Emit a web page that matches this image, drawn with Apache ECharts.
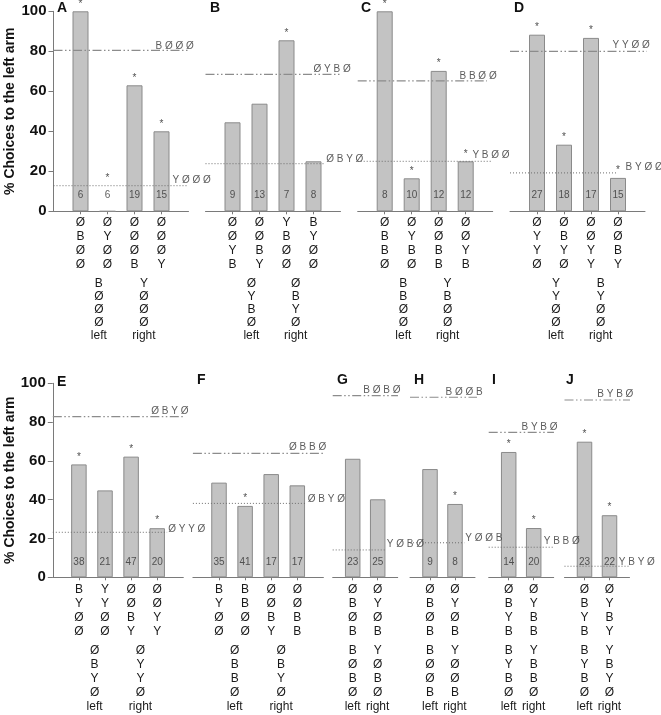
<!DOCTYPE html>
<html><head><meta charset="utf-8">
<script src="https://cdn.jsdelivr.net/npm/echarts@6/dist/echarts.min.js"></script>
<style>html,body{margin:0;padding:0;background:#fff}#c{width:661px;height:715px}</style>
</head><body><div id="c"></div>
<script>
// ---------------- DATA ----------------
const panels = ['A','B','C','D','E','F','G','H','I','J'];
const barValues = [
  [100, 0, 63, 40],
  [44.5, 53.8, 85.5, 25],
  [100, 16.5, 70.2, 25],
  [88.3, 33.3, 86.7, 16.7],
  [58.2, 44.8, 62.2, 25.3],
  [48.8, 36.8, 53.2, 47.4],
  [61.1, 40.2],
  [55.8, 37.8],
  [64.6, 25.4],
  [69.9, 32]
];
const sampleSizes = [
  [6,6,19,15],[9,13,7,8],[8,10,12,12],[27,18,17,15],
  [38,21,47,20],[35,41,17,17],[23,25],[9,8],[14,20],[23,22]
];
const significant = [
  [1,1,1,1],[0,0,1,0],[1,1,1,1],[1,1,1,1],
  [1,0,1,1],[0,1,0,0],[0,0],[0,1],[1,1],[1,1]
];
// reference lines: dash-dot = left training pattern, dotted = right training pattern
const dashDotRef = [80.5, 68.5, 65.2, 80, 82.8, 63.9, 93.6, 92.8, 74.7, 91.4];
const dottedRef  = [12.8, 23.8, 25, 19.2, 23.2, 38.1, 14.1, 17.8, 15.5, 5.7];
const armLabels = [
  ['ØBØØ','ØYØØ','ØØØB','ØØØY'],
  ['ØØYB','ØØBY','YBØØ','BYØØ'],
  ['ØBBØ','ØYBØ','ØØBB','ØØYB'],
  ['ØYYØ','ØBYØ','ØØYY','ØØBY'],
  ['BYØØ','YYØØ','ØØBY','ØØYY'],
  ['BYØØ','BBØØ','ØØBY','ØØBB'],
  ['ØBØB','ØYØB'],
  ['ØBØB','ØYØB'],
  ['ØBYB','ØYBB'],
  ['ØBYB','ØYBY']
];
const trainingLabels = [
  ['BØØØ','YØØØ'],
  ['ØYBØ','ØBYØ'],
  ['BBØØ','YBØØ'],
  ['YYØØ','BYØØ'],
  ['ØBYØ','ØYYØ'],
  ['ØBBØ','ØBYØ'],
  ['BØBØ','YØBØ'],
  ['BØØB','YØØB'],
  ['BYBØ','YBBØ'],
  ['BYBØ','YBYØ']
];
const sideLabels = ['left','right'];
const yTickStep = 20;
const yAxisTitle = '% Choices to the left arm';
const nLabelLevel = 8;   // height at which n is written
const starGap = 0;

// ---------------- LAYOUT ----------------
const topRow = {top:11.3, h:200, lab1:{lh:14, m:4}, lab2:{lh:13, m:66.2}, bw:16};
const botRow = {top:383.3, h:194, lab1:{lh:13.7, m:6}, lab2:{lh:13.8, m:66.8}, bw:15.5};
const layout = [
  {row:topRow, left:53.5, unit:27, min:0, max:5, pos:[1,2,3,4], pairPos:[1.68,3.35], lx:57, ly:1, yaxis:true},
  {row:topRow, left:205.5, unit:27, min:0, max:5, pos:[1,2,3,4], pairPos:[1.70,3.34], lx:210, ly:1},
  {row:topRow, left:357.7, unit:27, min:0, max:5, pos:[1,2,3,4], pairPos:[1.69,3.33], lx:361, ly:1},
  {row:topRow, left:510, unit:27, min:0, max:5, pos:[1,2,3,4], pairPos:[1.70,3.36], lx:514, ly:1},
  {row:botRow, left:52.8, unit:26.1, min:0, max:5, pos:[1,2,3,4], pairPos:[1.6,3.36], lx:57, ly:375, yaxis:true},
  {row:botRow, left:192.9, unit:26.1, min:0, max:5, pos:[1,2,3,4], pairPos:[1.6,3.38], lx:197, ly:373},
  {row:botRow, left:332.7, unit:25, min:0.2, max:2.8, pos:[1,2], pairPos:[1,2], lx:337, ly:373},
  {row:botRow, left:410, unit:25, min:0.2, max:2.8, pos:[1,2], pairPos:[1,2], lx:414, ly:373},
  {row:botRow, left:488.7, unit:25, min:0.2, max:2.8, pos:[1,2], pairPos:[1,2], lx:492, ly:373},
  {row:botRow, left:564.5, unit:25, min:0.2, max:2.8, pos:[1,2], pairPos:[1,2], lx:566, ly:373}
];
// [line end x, label x, label dy(px)] for dash-dot and dotted lines
const refLayout = [
  {dd:[5.1, 3.76, -4],  dt:[4.94, 4.39, -5.7]},
  {dd:[5.09, 3.98, -5], dt:[4.43, 4.45, -4]},
  {dd:[4.79, 3.75, -4.7], dt:[4.97, 4.23, -6.5]},
  {dd:[5.07, 3.78, -6], dt:[3.96, 4.26, -5.7]},
  {dd:[5.14, 3.75, -5], dt:[4.38, 4.4, -3.5]},
  {dd:[5.06, 3.66, -6], dt:[4.36, 4.38, -4.3]},
  {dd:[2.81, 1.4, -5],  dt:[2.32, 2.34, -6]},
  {dd:[2.96, 1.6, -5],  dt:[2.37, 2.39, -4.5]},
  {dd:[2.81, 1.49, -5], dt:[2.81, 2.38, -5.6]},
  {dd:[2.82, 1.49, -6], dt:[2.82, 2.35, -4]}
];

const FONT = 'Liberation Sans, Arial, Helvetica, sans-serif';
const AXIS_COLOR = '#7a7a7a';
const TEXT_COLOR = '#1a1a1a';

const grids = [], xAxes = [], yAxes = [], series = [], titles = [];
const vert = s => s.split('').join('\n');
const spaced = s => s.split('').join(' ');

panels.forEach((p, i) => {
  const L = layout[i], R = L.row;
  grids.push({left:L.left, top:R.top, width:(L.max-L.min)*L.unit, height:R.h,
    containLabel:false, outerBoundsMode:'none'});
  const findIdx = (arr, v) => arr.findIndex(q => Math.abs(q - v) < 1e-6);
  // main x axis (arm contents)
  xAxes.push({
    type:'value', gridIndex:i, min:L.min, max:L.max,
    splitLine:{show:false},
    axisLine:{show:true, onZero:false, lineStyle:{color:AXIS_COLOR, width:1}},
    axisTick:{show:true, customValues:L.pos, length:3, lineStyle:{color:AXIS_COLOR}},
    axisLabel:{show:true, customValues:L.pos, margin:R.lab1.m, fontSize:12, lineHeight:R.lab1.lh,
      color:TEXT_COLOR, fontFamily:FONT,
      formatter:(v) => { const k = findIdx(L.pos, v); return k < 0 ? '' : vert(armLabels[i][k]); }}
  });
  // secondary x axis (training patterns, left/right)
  xAxes.push({
    type:'value', gridIndex:i, min:L.min, max:L.max, position:'bottom',
    splitLine:{show:false}, axisLine:{show:false}, axisTick:{show:false},
    axisLabel:{show:true, customValues:L.pairPos, margin:R.lab2.m, fontSize:12, lineHeight:R.lab2.lh,
      color:TEXT_COLOR, fontFamily:FONT,
      formatter:(v) => { const k = findIdx(L.pairPos, v); return k < 0 ? '' : vert(trainingLabels[i][k]) + '\n' + sideLabels[k]; }}
  });
  yAxes.push({
    type:'value', gridIndex:i, min:0, max:100, interval:yTickStep, show:!!L.yaxis,
    splitLine:{show:false},
    axisLine:{show:true, lineStyle:{color:AXIS_COLOR, width:1}},
    axisTick:{show:true, inside:false, length:5, lineStyle:{color:AXIS_COLOR}},
    axisLabel:{fontSize:15, fontWeight:'bold', color:'#111', margin:7, fontFamily:FONT},
    name: L.yaxis ? yAxisTitle : '', nameLocation:'middle', nameGap:32,
    nameTextStyle:{fontSize:14, fontWeight:'bold', color:'#111', fontFamily:FONT}
  });
  titles.push({text:p, left:L.lx, top:L.ly, padding:0,
    textStyle:{fontSize:14, fontWeight:'bold', color:'#111', fontFamily:FONT}});

  const xi = 2*i, yi = i;
  // bars
  series.push({
    type:'bar', xAxisIndex:xi, yAxisIndex:yi, barWidth:R.bw,
    data: barValues[i].map((v,k) => [L.pos[k], v]),
    itemStyle:{color:'#c3c3c3', borderColor:'#8a8a8a', borderWidth:1},
    silent:true
  });
  // reference lines
  const rl = refLayout[i];
  series.push({
    type:'line', xAxisIndex:xi, yAxisIndex:yi, symbol:'none', clip:false, silent:true,
    data:[[L.min, dashDotRef[i]], [rl.dd[0], dashDotRef[i]]],
    lineStyle:{color:'#8c8c8c', width:1.2, type:[9,2.5,1.5,2.5,1.5,2.5]}
  });
  series.push({
    type:'line', xAxisIndex:xi, yAxisIndex:yi, symbol:'none', clip:false, silent:true,
    data:[[L.min, dottedRef[i]], [rl.dt[0], dottedRef[i]]],
    lineStyle:{color:'#6e6e6e', width:1, type:[1,2]}
  });
  // reference line labels
  series.push({
    type:'scatter', xAxisIndex:xi, yAxisIndex:yi, clip:false, silent:true,
    symbol:'circle', symbolSize:1, itemStyle:{color:'rgba(0,0,0,0)'},
    data:[
      {value:[rl.dd[1], dashDotRef[i]], t:spaced(trainingLabels[i][0]), label:{offset:[0, rl.dd[2]]}},
      {value:[rl.dt[1], dottedRef[i]], t:spaced(trainingLabels[i][1]), label:{offset:[0, rl.dt[2]]}}
    ],
    label:{show:true, position:'right', distance:0, fontSize:10, color:'#333', fontFamily:FONT,
      formatter:(pp) => pp.data.t}
  });
  // sample sizes
  series.push({
    type:'scatter', xAxisIndex:xi, yAxisIndex:yi, clip:false, silent:true,
    symbol:'circle', symbolSize:1, itemStyle:{color:'rgba(0,0,0,0)'},
    data: sampleSizes[i].map((n,k) => ({value:[L.pos[k], nLabelLevel], t:String(n)})),
    label:{show:true, position:'inside', fontSize:10, color:'#333', fontFamily:FONT,
      formatter:(pp) => pp.data.t}
  });
  // significance stars
  const stars = [];
  significant[i].forEach((s,k) => {
    if (s) {
      const v = barValues[i][k];
      stars.push([L.pos[k], v > 0 ? v : dottedRef[i]]);
    }
  });
  series.push({
    type:'scatter', xAxisIndex:xi, yAxisIndex:yi, clip:false, silent:true,
    symbol:'circle', symbolSize:1, itemStyle:{color:'rgba(0,0,0,0)'},
    data: stars,
    label:{show:true, position:'top', distance:2, fontSize:10, color:'#222', fontFamily:FONT,
      formatter:'*'}
  });
});

const chart = echarts.init(document.getElementById('c'));
chart.setOption({
  animation:false,
  backgroundColor:'#ffffff',
  textStyle:{fontFamily:FONT},
  title:titles, grid:grids, xAxis:xAxes, yAxis:yAxes, series:series
});
</script>
</body></html>
